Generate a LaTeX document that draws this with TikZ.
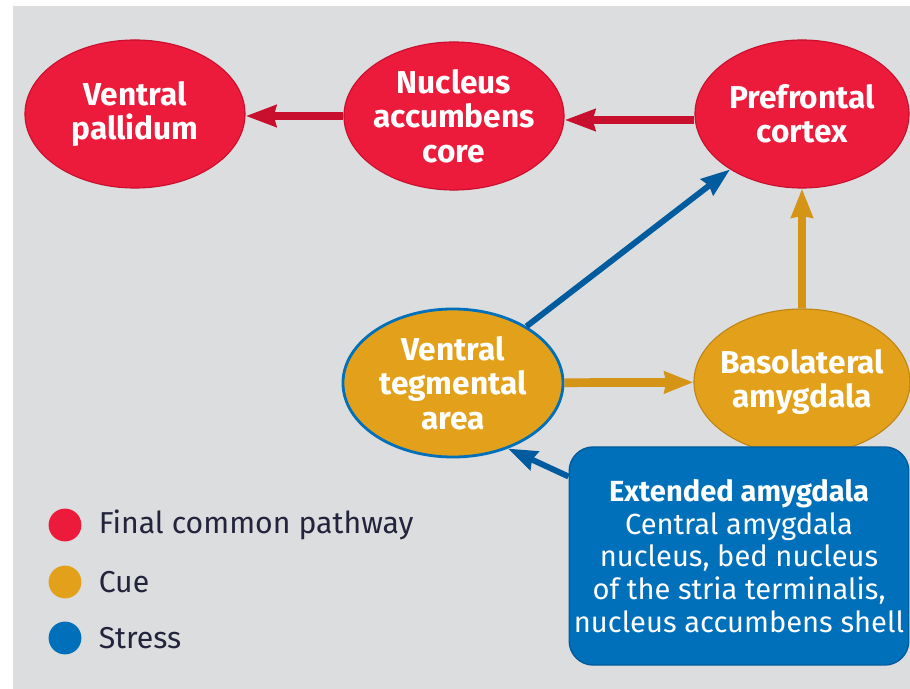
\documentclass[tikz,border=0pt]{standalone}
\usepackage{fontspec}
\setmainfont{Fira Sans}
\usepackage{xcolor}
\definecolor{PathRed}{RGB}{236, 27, 59}
\definecolor{PathRedDark}{RGB}{200, 16, 46}
\definecolor{CueOrange}{RGB}{227, 161, 27}
\definecolor{CueOrangeDark}{RGB}{212, 148, 22}
\definecolor{StressBlue}{RGB}{0, 112, 186}
\definecolor{StressBlueDark}{RGB}{0, 92, 158}
\definecolor{BgGray}{RGB}{220, 221, 223}
\definecolor{LegendInk}{RGB}{35, 35, 60}
\usetikzlibrary{shapes.geometric, arrows.meta, positioning}

\begin{document}
\begin{tikzpicture}[
        x=0.025cm, y=-0.025cm,
        region/.style={ellipse, inner xsep=-1cm, inner ysep=-0.6cm, minimum width=5.5cm, minimum height=3.7cm, align=center,
            text=white, font=\bfseries\fontsize{22.5}{24.5}\selectfont},
        final/.style={region, fill=PathRed, draw=PathRedDark, line width=0.8pt},
        cue/.style={region, fill=CueOrange, draw=CueOrangeDark!90!black, line width=0.8pt},
        dot/.style={circle, inner sep=0pt, minimum size=0.82cm},
        legtext/.style={inner sep=0pt, text=LegendInk, font=\fontsize{21.5}{24}\selectfont},
        redlink/.style={-{Stealth[length=0.76cm, width=0.53cm, inset=0.06cm]}, color=PathRedDark},
        cuelink/.style={-{Stealth[length=0.72cm, width=0.53cm, inset=0.04cm]}, line width=6.2pt, color=CueOrangeDark},
        stresslink/.style={-{Stealth[length=0.72cm, width=0.5cm, inset=0.06cm]}, line width=4.2pt, color=StressBlueDark}
    ]
        \useasboundingbox (0,0) rectangle (910,689);
        \fill[BgGray] (13,6) rectangle (910,689);

        % --- REGIONS ---
        \node[final] (vp) at (135,114) {Ventral\\pallidum};
        \node[final] (nac) at (454,116) {Nucleus\\accumbens\\core};
        \node[final, minimum width=5.35cm] (pfc) at (802,114) {Prefrontal\\cortex};

        \node[cue, draw=StressBlue, line width=2pt] (vta) at (453,383) {Ventral\\tegmental\\area};
        \node[cue, minimum width=5.4cm, minimum height=3.65cm] (bla) at (802,382) {Basolateral\\amygdala};

        \node[rectangle, rounded corners=0.6cm, fill=StressBlue, draw=StressBlueDark, line width=1pt,
            minimum width=8.45cm, minimum height=5.45cm, align=center, text=white,
            font=\fontsize{20.7}{23.2}\selectfont] (ext) at (739,556)
            {\textbf{Extended amygdala}\\Central amygdala\\nucleus, bed nucleus\\of the stria terminalis,\\nucleus accumbens shell};

        % --- LEGEND ---
        \node[dot, fill=PathRed] (kfinal) at (65,525) {};
        \node[legtext, right=0.42cm of kfinal] (tfinal) {Final common pathway};
        \node[dot, fill=CueOrange] (kcue) at (65,582) {};
        \node[legtext, right=0.42cm of kcue] (tcue) {Cue};
        \node[dot, fill=StressBlue] (kstress) at (65,638) {};
        \node[legtext, right=0.42cm of kstress] (tstress) {Stress};

        % --- CONNECTIONS ---
        \draw[redlink, line width=6pt] ([yshift=-0.15cm]pfc.west) -- ([yshift=-0.15cm]pfc.west -| nac.east);
        \draw[redlink, line width=5pt] (nac.west) -- (nac.west -| vp.east);
        \draw[cuelink] (vta) -- (bla);
        \draw[cuelink] (bla) -- (pfc);
        \draw[stresslink] (vta) -- (pfc);
        \draw[stresslink] (ext.155) -- (vta.-50);

    \end{tikzpicture}
\end{document}
